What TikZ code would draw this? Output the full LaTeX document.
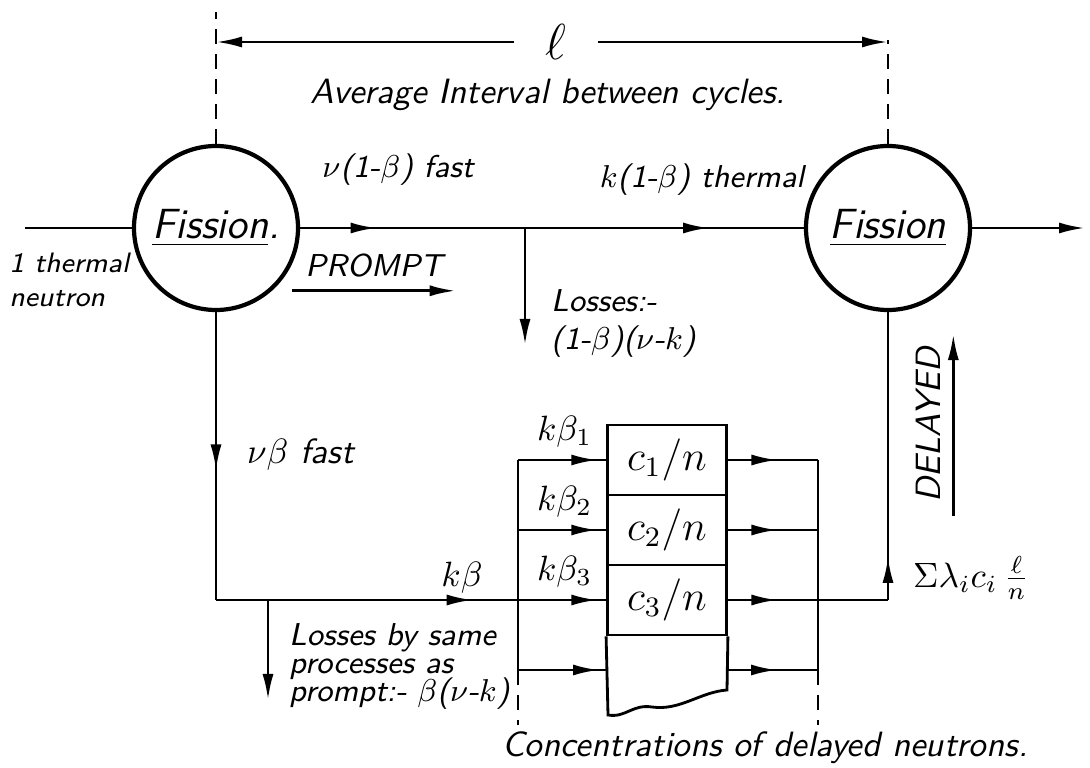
\documentclass[tikz,border=0pt]{standalone}
\usepackage{amsmath}
\usepackage{tikz}
\usetikzlibrary{arrows.meta,decorations.markings}

\tikzset{
  hand/.style={font=\sffamily\slshape},
  handsmall/.style={font=\sffamily\slshape\small},
  fission/.style={circle, draw, very thick, minimum size=16.4mm, inner sep=0pt,
    font=\sffamily\slshape\large},
  conc/.style={rectangle, draw, thick, minimum width=11.9mm, minimum height=7mm,
    inner sep=0pt, font=\large},
  flow/.style={postaction={decorate},
    decoration={markings, mark=at position #1 with {\arrow{>}}}},
}

\begin{document}
\begin{tikzpicture}[x=0.1mm, y=-0.1mm, >={Latex[length=2.6mm, width=1.1mm]}, thick]
  \useasboundingbox (0,0) rectangle (1090,768);

  \node[fission] (F1) at (216,228) {\underline{Fission}.};
  \node[fission] (F2) at (888,228) {\underline{Fission}};

  % storage of delayed emitters
  \node[conc] (c1) at (667,460) {$c_1/n$};
  \node[conc] (c2) at (667,530) {$c_2/n$};
  \node[conc] (c3) at (667,600) {$c_3/n$};
  \coordinate (c4w) at (608,670);
  \coordinate (c4e) at (727,670);
  \draw (c3.south west) -- (608,715)
        .. controls (626,718) and (632,704) .. (652,707)
        .. controls (680,711) and (700,692) .. (727,690) -- (c3.south east);

  % interval between cycles
  \coordinate (t1) at (216,12);
  \coordinate (t2) at (888,40);
  \coordinate (m1) at (216,42);
  \coordinate (m2) at (888,42);
  \draw[dashed, dash pattern=on 1.5mm off 1mm] (F1) -- (t1);
  \draw[dashed, dash pattern=on 1.5mm off 1mm] (F2) -- (t2);
  \node[font=\Large, inner xsep=3mm] (ell) at (556,42) {$\ell$};
  \draw[->] (ell) -- (m1);
  \draw[->] (ell) -- (m2);
  \node[hand] (avg) at (548,95) {Average Interval between cycles.};

  % prompt branch
  \coordinate (in) at (25,228);
  \coordinate (b1) at (525,228);
  \coordinate (l1) at (525,345);
  \coordinate (out) at (1085,228);
  \draw (in) -- (F1);
  \draw[flow=0.34] (F1) -- (b1);
  \draw[flow=0.66] (b1) -- (F2);
  \draw[->] (b1) -- (l1);
  \draw[->] (F2) -- (out);

  \node[font=\sffamily\slshape\footnotesize, align=left, anchor=north west, inner xsep=0pt]
    (neut) at (8,240) {1 thermal\\neutron};
  \node[handsmall] (fast1) at (398,170) {$\nu$(1-$\beta$) fast};
  \node[handsmall] (therm) at (702,180) {$k$(1-$\beta$) thermal};
  \node[handsmall] (prompt) at (374,266) {PROMPT};
  \draw[->] (prompt.south west) -- (prompt.south east);
  \node[handsmall, align=left, anchor=north west] (loss1) at (538,276)
    {Losses:-\\(1-$\beta$)($\nu$-$k$)};

  % delayed branch
  \coordinate (a1) at (216,600);
  \coordinate (b2) at (268,600);
  \coordinate (l2) at (268,700);
  \draw[flow=0.55] (F1) -- (a1);
  \draw[flow=0.85] (a1) -- (518,600) coordinate (d3);
  \draw[->] (b2) -- (l2);

  \coordinate (d1) at (518,460);
  \coordinate (d2) at (518,530);
  \coordinate (d4) at (518,670);
  \coordinate (d5) at (518,725);
  \coordinate (e1) at (818,460);
  \coordinate (e2) at (818,530);
  \coordinate (e3) at (818,600);
  \coordinate (e4) at (818,670);
  \coordinate (e5) at (818,725);
  \draw (d1) -- (d4);
  \draw[dashed, dash pattern=on 1.5mm off 1mm] (d4) -- (d5);
  \draw (e1) -- (e4);
  \draw[dashed, dash pattern=on 1.5mm off 1mm] (e4) -- (e5);

  \draw[flow=0.9] (d1) -- (c1);
  \draw[flow=0.9] (d2) -- (c2);
  \draw[flow=0.9] (d3) -- (c3);
  \draw[flow=0.9] (d4) -- (c4w);
  \draw[flow=0.55] (c1) -- (e1);
  \draw[flow=0.55] (c2) -- (e2);
  \draw[flow=0.55] (c3) -- (e3);
  \draw[flow=0.55] (c4e) -- (e4);

  \coordinate (k3) at (e3 -| F2.south);
  \draw (e3) -- (k3);
  \draw[flow=0.15] (k3) -- (F2);

  \node[hand, anchor=west] (fast2) at (234,455) {$\nu\beta$ fast};
  \node[hand] (kb) at (462,578) {$k\beta$};
  \node[hand, anchor=south west] (kb1) at (524,460) {$k\beta_1$};
  \node[hand, anchor=south west] (kb2) at (524,530) {$k\beta_2$};
  \node[hand, anchor=south west] (kb3) at (524,600) {$k\beta_3$};
  \node[handsmall, align=left, anchor=north west] (loss2) at (276,610)
    {Losses by same\\[-3pt]processes as\\[-3pt]prompt:- $\beta$($\nu$-$k$)};
  \node[hand, anchor=west] (sum) at (900,578) {$\Sigma\lambda_i c_i\,\frac{\ell}{n}$};
  \node[hand, rotate=90] (delayed) at (928,425) {DELAYED};
  \draw[->] (delayed.south west) -- (delayed.south east);
  \node[hand] (concs) at (765,748) {Concentrations of delayed neutrons.};

\end{tikzpicture}
\end{document}
